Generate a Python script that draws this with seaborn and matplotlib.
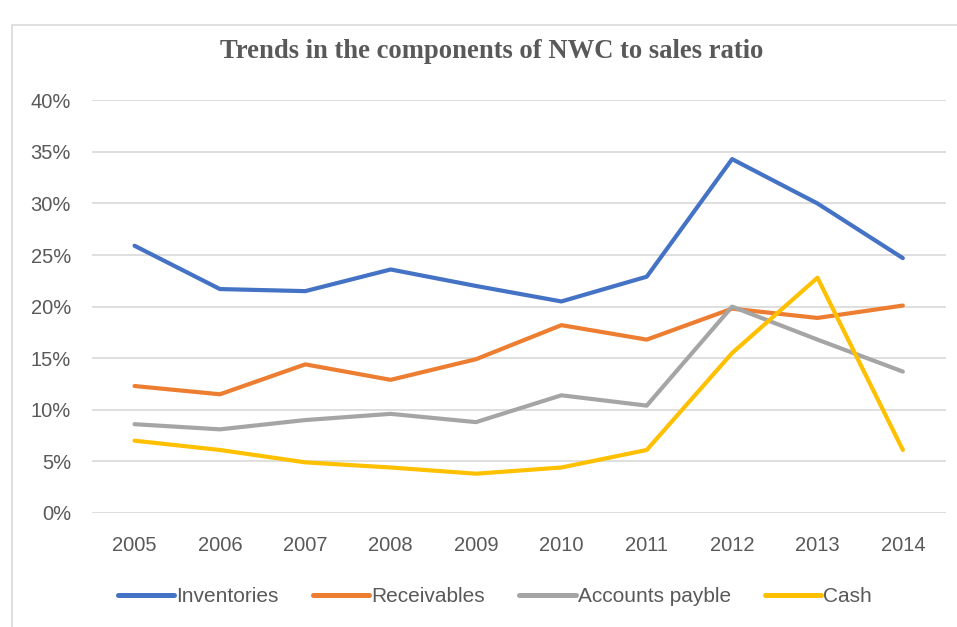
import pandas as pd
import numpy as np
import matplotlib.pyplot as plt
import seaborn as sns
from matplotlib.patches import Rectangle
from matplotlib.ticker import PercentFormatter

sns.set_style("white")
plt.rcParams['font.family'] = ['Liberation Sans', 'DejaVu Sans']

years = ['2005', '2006', '2007', '2008', '2009', '2010', '2011', '2012', '2013', '2014']
inventories = [25.9, 21.7, 21.5, 23.6, 22.0, 20.5, 22.9, 34.3, 30.0, 24.7]
receivables = [12.3, 11.5, 14.4, 12.9, 14.9, 18.2, 16.8, 19.8, 18.9, 20.1]
payables = [8.6, 8.1, 9.0, 9.6, 8.8, 11.4, 10.4, 20.0, 16.8, 13.7]
cash = [7.0, 6.1, 4.9, 4.4, 3.8, 4.4, 6.1, 15.5, 22.8, 6.1]

series_names = ['Inventories', 'Receivables', 'Accounts payble', 'Cash']
colors = ['#4472C4', '#ED7D31', '#A5A5A5', '#FFC000']

df = pd.DataFrame({'year': years, 'Inventories': inventories, 'Receivables': receivables,
                   'Accounts payble': payables, 'Cash': cash})
long = df.melt(id_vars='year', var_name='series', value_name='ratio')

fig = plt.figure(figsize=(9.57, 6.27), dpi=100)
ax = fig.add_axes([0.096, 0.182, 0.892, 0.658])

# chart border
fig.patches.append(Rectangle((12 / 957, -0.01), 1.0, 1 - 25 / 627 + 0.01, transform=fig.transFigure,
                             fill=False, edgecolor='#D9D9D9', linewidth=1.2))

sns.lineplot(data=long, x='year', y='ratio', hue='series', hue_order=series_names,
             palette=colors, linewidth=3, ax=ax, sort=False)

ax.set_ylim(0, 40)
ax.set_xlim(-0.5, 9.5)
ax.set_yticks(np.arange(0, 41, 5))
ax.yaxis.set_major_formatter(PercentFormatter(decimals=0))
ax.grid(axis='y', color='#D9D9D9', linewidth=1.2)
ax.set_axisbelow(True)
for s in ax.spines.values():
    s.set_visible(False)
ax.tick_params(axis='both', length=0, labelsize=14.5, colors='#595959')
ax.tick_params(axis='x', pad=17)
ax.tick_params(axis='y', pad=15)
ax.set_xlabel('')
ax.set_ylabel('')

fig.text(492 / 957, 1 - 52 / 627, 'Trends in the components of NWC to sales ratio', ha='center', va='center',
         fontsize=19.2, fontweight='bold', color='#595959', family=['Liberation Serif', 'DejaVu Serif'])

handles, labels = ax.get_legend_handles_labels()
for h in handles:
    h.set_linewidth(3.6)
ax.legend(handles, labels, loc='center', bbox_to_anchor=(495 / 957, 1 - 597 / 627), bbox_transform=fig.transFigure,
          ncol=4, frameon=False, fontsize=15, labelcolor='#595959', handlelength=2.7,
          handletextpad=0.1, columnspacing=1.65)

plt.savefig('out.png', dpi=100)
plt.close()
